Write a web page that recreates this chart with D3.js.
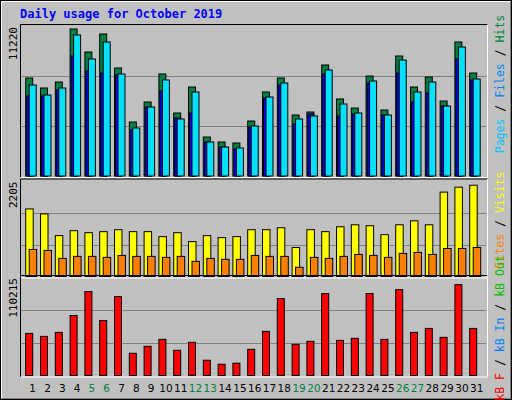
<!DOCTYPE html>
<html><head><meta charset="utf-8">
<script src="https://cdn.jsdelivr.net/npm/d3@7"></script>
<style>body{margin:0;background:#fff}</style></head>
<body><svg id="c" width="512" height="400"></svg>
<script>
const days = d3.range(1,32);
const weekends = [5,6,12,13,19,20,26,27];
const hits = [7330,6582,7031,10996,9275,10622,8078,4039,5535,7630,4712,6657,2917,2543,2468,4114,6283,7330,4563,4787,8303,5760,5086,7480,4937,8976,6657,7405,5610,10023,7704];
const files = [6807,6059,6582,10547,8752,10023,7630,3590,5161,7181,4264,6283,2543,2169,2094,3740,5909,6956,4264,4488,7929,5386,4712,7106,4563,8677,6283,7031,5236,9649,7256];
const pages = [5984,5984,6433,8976,7854,7704,7555,3441,5161,6358,4338,4712,2543,2169,2020,3665,5834,6807,3890,4638,7630,4488,4638,6956,4563,7704,5535,6208,5236,8752,7181];
const visits = [1552,1438,939,1052,1007,1030,1075,1030,1030,916,1007,802,939,893,916,1075,1075,1120,666,1075,1030,1143,1188,1166,961,1188,1279,1188,1938,2051,2097];
const sites = [621,598,416,462,462,439,484,462,462,439,462,348,416,394,394,484,462,462,212,439,416,462,507,484,439,530,553,507,643,643,666];
const kbytes = [47117,43778,48230,67151,93863,61586,88298,24857,32648,40439,28196,37100,17066,12614,13727,29309,49343,86072,34874,38213,91637,39326,41552,91637,40439,96089,48230,52682,42665,101654,52682];
const maxHits = 11220, maxVisits = 2205, maxKB = 110215;

const svg = d3.select("#c");
svg.append("rect").attr("width",512).attr("height",400).attr("fill","#c0c0c0");
svg.append("path").attr("d","M1.5,398.5V1.5H510.5").attr("stroke","#fff").attr("fill","none");
svg.append("path").attr("d","M1.5,398.5H510.5V1.5").attr("stroke","#808080").attr("fill","none");
svg.append("rect").attr("x",0.5).attr("y",0.5).attr("width",511).attr("height",399).attr("fill","none").attr("stroke","#000");
svg.append("text").attr("x",20).attr("y",18).attr("fill","#0000ff").attr("font-family","DejaVu Sans Mono").attr("font-weight","bold").attr("font-size",12).text("Daily usage for October 2019");

const x = d3.scaleLinear().domain([1,31]).range([25.7,469.7]);
const mono = "DejaVu Sans Mono";

function panel(y0,y1,max){
  const g = svg.append("g");
  const y = d3.scaleLinear().domain([0,max]).range([y1, y0]);
  [1/3,2/3].forEach(f=>g.append("line").attr("x1",21).attr("x2",486).attr("y1",Math.round(y(max*f))+0.5).attr("y2",Math.round(y(max*f))+0.5).attr("stroke","#808080"));
  g.append("path").attr("d",`M20.5,${y1+1.5}V${y0-1.5}H487.5`).attr("stroke","#000").attr("fill","none");
  g.append("path").attr("d",`M20.5,${y1+1.5}H487.5V${y0-1.5}`).attr("stroke","#fff").attr("fill","none");
  svg.append("text").attr("transform",`translate(17,${y0+1}) rotate(-90)`).attr("text-anchor","end").attr("font-family",mono).attr("font-size",11).text(max);
  return y;
}
function bars(y,data,dx,w,color){
  svg.append("g").selectAll("rect").data(data).join("rect")
   .attr("x",(d,i)=>x(days[i])+dx).attr("width",w)
   .attr("y",d=>y(d)).attr("height",d=>y(0)-y(d))
   .attr("fill",color).attr("stroke","#000").attr("stroke-width",1);
}
function sideLabel(yc,parts){
  const t = svg.append("text").attr("transform",`translate(504,${yc}) rotate(-90)`).attr("text-anchor","middle").attr("font-family",mono).attr("font-size",11.5);
  parts.forEach((p,i)=>{ if(i) t.append("tspan").attr("fill","#000").text(" / "); t.append("tspan").attr("fill",p[1]).text(p[0]); });
}

const y1 = panel(26,176,maxHits);
bars(y1,hits,0,7,"#008040");
bars(y1,pages,1,6,"#0000ff");
bars(y1,files,3.5,7,"#00e0ff");
sideLabel(84,[["Pages","#00c0ff"],["Files","#0080ff"],["Hits","#008040"]]);

const y2 = panel(180.5,276.5,maxVisits);
bars(y2,visits,0,7.5,"#ffff00");
bars(y2,sites,3.5,7.5,"#ff8000");
sideLabel(220,[["Sites","#ff8000"],["Visits","#ffff00"]]);

const y3 = panel(277,375.5,maxKB);
bars(y3,kbytes,0,7,"#ff0000");
sideLabel(328,[["kB F","#ff0000"],["kB In","#0080ff"],["kB Out","#00c000"]]);

svg.append("g").selectAll("text").data(days).join("text")
  .attr("x",d=>x(d)+7).attr("y",392).attr("text-anchor","middle")
  .attr("font-family","DejaVu Sans").attr("font-size",10.5)
  .attr("fill",d=>weekends.includes(d)?"#008040":"#000").text(d=>d);
</script></body></html>
